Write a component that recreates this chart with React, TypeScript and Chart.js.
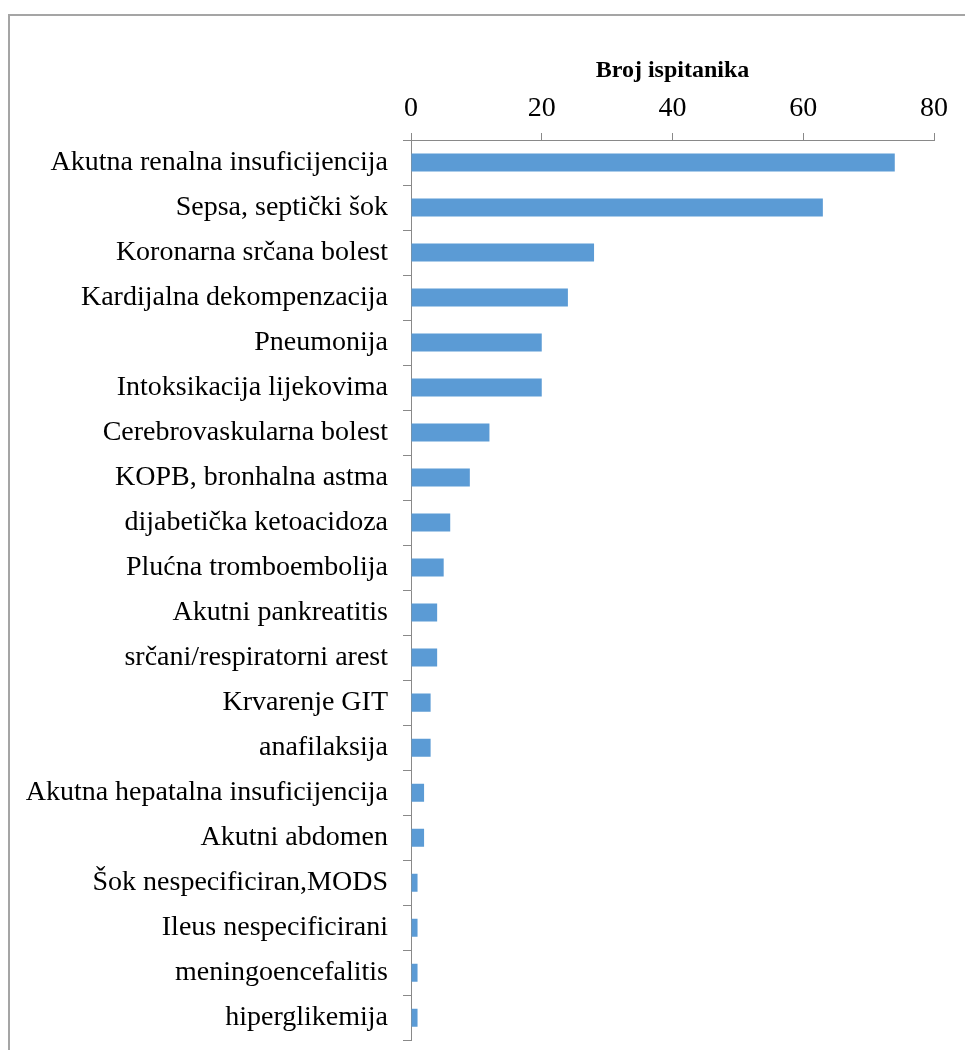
import React, { useEffect, useRef } from "react";
import { Chart, registerables } from "chart.js";

Chart.register(...registerables);

const categories = [
  "Akutna renalna insuficijencija",
  "Sepsa, septički šok",
  "Koronarna srčana bolest",
  "Kardijalna dekompenzacija",
  "Pneumonija",
  "Intoksikacija lijekovima",
  "Cerebrovaskularna bolest",
  "KOPB, bronhalna astma",
  "dijabetička ketoacidoza",
  "Plućna tromboembolija",
  "Akutni pankreatitis",
  "srčani/respiratorni arest",
  "Krvarenje GIT",
  "anafilaksija",
  "Akutna hepatalna insuficijencija",
  "Akutni abdomen",
  "Šok nespecificiran,MODS",
  "Ileus nespecificirani",
  "meningoencefalitis",
  "hiperglikemija",
];

const values = [74, 63, 28, 24, 20, 20, 12, 9, 6, 5, 4, 4, 3, 3, 2, 2, 1, 1, 1, 1];

const xMin = 0;
const xMax = 80;
const xStep = 20;
const axisTitle = "Broj ispitanika";

const FONT = "'Liberation Serif', 'Times New Roman', serif";
const AXIS_COLOR = "#898989";
const BAR_COLOR = "#5b9bd5";

export default function App() {
  const canvasRef = useRef<HTMLCanvasElement | null>(null);

  useEffect(() => {
    const canvas = canvasRef.current;
    if (!canvas) return;
    const chart = new Chart(canvas, {
      type: "bar",
      data: {
        labels: categories,
        datasets: [
          {
            data: values,
            backgroundColor: BAR_COLOR,
            borderWidth: 0,
            barPercentage: 0.4,
            categoryPercentage: 1,
          },
        ],
      },
      options: {
        indexAxis: "y",
        responsive: false,
        animation: false,
        devicePixelRatio: 1,
        layout: { padding: { top: 0, right: 31, bottom: 10, left: 0 } },
        plugins: {
          legend: { display: false },
          tooltip: { enabled: false },
        },
        scales: {
          x: {
            position: "top",
            min: xMin,
            max: xMax,
            ticks: {
              stepSize: xStep,
              color: "#000",
              font: { family: FONT, size: 28 },
              padding: 8,
            },
            grid: {
              drawOnChartArea: false,
              drawTicks: true,
              tickLength: 7,
              color: AXIS_COLOR,
            },
            border: { color: AXIS_COLOR, width: 1 },
            title: {
              display: true,
              text: axisTitle,
              color: "#000",
              font: { family: FONT, size: 24, weight: "bold" },
              padding: { top: 56, bottom: 0 },
            },
            afterFit: (s: any) => {
              s.height = 140;
            },
          },
          y: {
            ticks: {
              color: "#000",
              font: { family: FONT, size: 28 },
              padding: 15,
              autoSkip: false,
            },
            grid: {
              drawOnChartArea: false,
              drawTicks: true,
              tickLength: 8,
              color: AXIS_COLOR,
            },
            border: { color: AXIS_COLOR, width: 1 },
            afterFit: (s: any) => {
              s.width = 411;
            },
          },
        },
      },
    });
    return () => chart.destroy();
  }, []);

  return (
    <div
      style={{
        position: "absolute",
        left: 0,
        top: 0,
        width: 965,
        height: 1050,
        overflow: "hidden",
        background: "#fff",
      }}
    >
      <div
        style={{
          position: "absolute",
          left: 8,
          top: 14,
          width: 1000,
          height: 1100,
          borderLeft: "2px solid #a5a5a5",
          borderTop: "2px solid #a5a5a5",
          boxSizing: "border-box",
        }}
      />
      <canvas
        ref={canvasRef}
        width={965}
        height={1072}
        style={{ position: "absolute", left: 0, top: 0, width: 965, height: 1072 }}
      />
    </div>
  );
}
